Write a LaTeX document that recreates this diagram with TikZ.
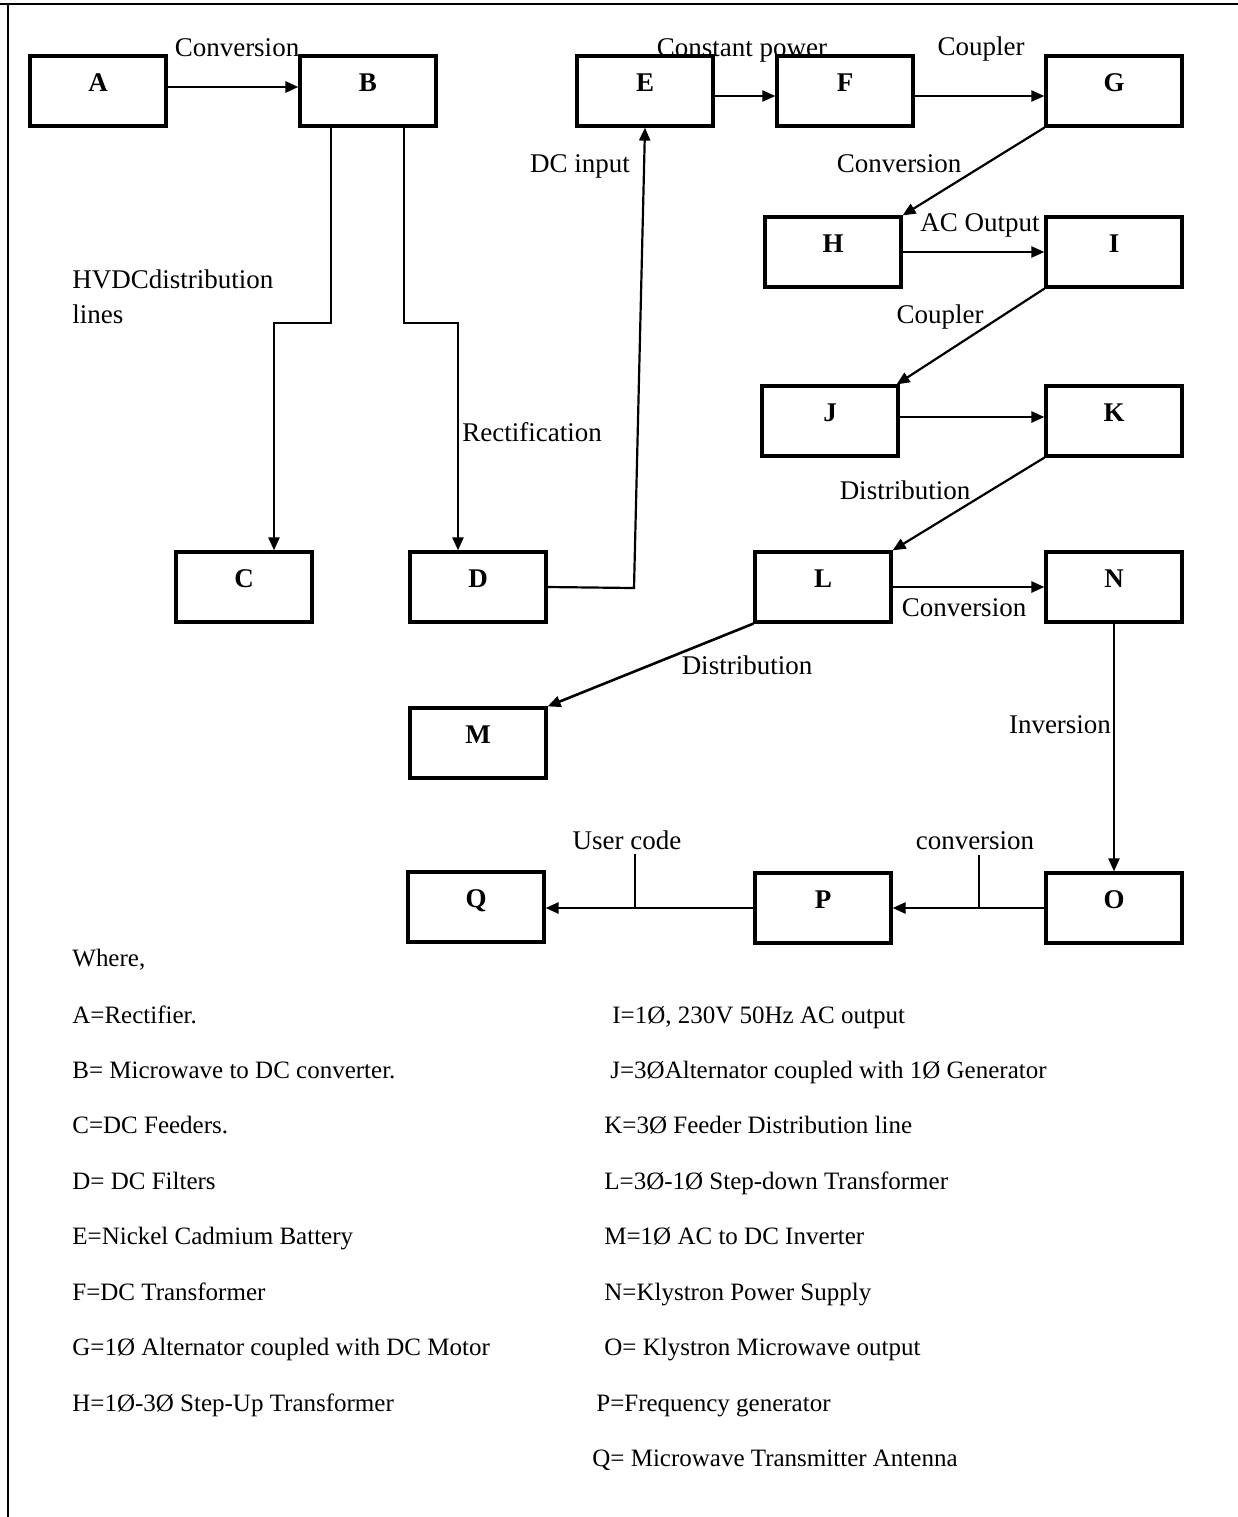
\documentclass[tikz,border=0pt]{standalone}
\usepackage{fontspec}
\setmainfont{Liberation Serif}
\usetikzlibrary{arrows.meta}
\begin{document}
\begin{tikzpicture}[x=0.5pt,y=-0.5pt,
  box/.style={draw,line width=1.6pt,minimum width=68pt,minimum height=35pt,inner sep=0pt,
    text height=17.5pt,text depth=17.5pt,font=\fontsize{13.5}{16}\selectfont\bfseries},
  arr/.style={line width=1.1pt,-{Triangle[length=6.5pt,width=5.5pt]}},
  conn/.style={line width=1.1pt},
  lab/.style={anchor=base,inner sep=0pt,font=\fontsize{13.5}{16}\selectfont},
  leg/.style={anchor=base west,inner sep=0pt,font=\fontsize{12.5}{15}\selectfont}]
\useasboundingbox (0,0) rectangle (1238,1517);
% frame
\draw[line width=1pt] (0,4) -- (1238,4);
\draw[line width=1.3pt] (8,4) -- (8,1517);
% boxes
\node[box] (A) at (98,91) {A};
\node[box] (B) at (368,91) {B};
\node[box] (E) at (645,91) {E};
\node[box] (F) at (845,91) {F};
\node[box] (G) at (1114,91) {G};
\node[box] (H) at (833,252) {H};
\node[box] (I) at (1114,252) {I};
\node[box] (J) at (830,421) {J};
\node[box] (K) at (1114,421) {K};
\node[box] (C) at (244,587) {C};
\node[box] (D) at (478,587) {D};
\node[box] (L) at (823,587) {L};
\node[box] (N) at (1114,587) {N};
\node[box] (M) at (478,743) {M};
\node[box] (Q) at (476,907) {Q};
\node[box] (P) at (823,908) {P};
\node[box] (O) at (1114,908) {O};
% connectors
\coordinate (bc) at (0,323);
\coordinate (de) at (634,588);
\draw[arr,line width=1.4pt] ([yshift=2pt]A.east) -- ([yshift=2pt]B.west);
\draw[arr] ([xshift=-18.5pt]B.south) -- ([xshift=-18.5pt]B.south |- bc) -| ([xshift=15pt]C.north);
\draw[arr] ([xshift=18pt]B.south) -- ([xshift=18pt]B.south |- bc) -| ([xshift=-10pt]D.north);
\draw[arr] (D.east) -- (de) -- (E.south);
\draw[arr] ([yshift=-2.5pt]E.east) -- ([yshift=-2.5pt]F.west);
\draw[arr] ([yshift=-2.5pt]F.east) -- ([yshift=-2.5pt]G.west);
\draw[arr] (G.south west) -- (H.north east);
\draw[arr] (H.east) -- (I.west);
\draw[arr] (I.south west) -- ([xshift=-1.5pt]J.north east);
\draw[arr,line width=1.3pt] ([yshift=2pt]J.east) -- ([yshift=2pt]K.west);
\draw[arr] (K.south west) -- (L.north east);
\draw[arr,line width=1.3pt] (L.east) -- (N.west);
\draw[arr,line width=1.3pt] (L.south west) -- (M.north east);
\draw[arr] (N.south) -- (O.north);
\draw[arr,line width=1.3pt] (O.west) -- (P.east);
\draw[arr,line width=1.3pt] (P.west) -- (P.west -| Q.east);
% label ticks
\coordinate (ct) at (979,855);
\coordinate (ut) at (635,854);
\draw[conn] (ct) -- (ct |- O.west);
\draw[conn] (ut) -- (ut |- P.west);
% connector labels
\node[lab] (l1) at (237,56) {Conversion};
\node[lab] (l2) at (742,56) {Constant power};
\node[lab] (l3) at (981,55) {Coupler};
\node[lab] (l4) at (580,172) {DC input};
\node[lab] (l5) at (899,172) {Conversion};
\node[lab] (l6) at (980,231) {AC Output};
\node[lab,anchor=base west] (l7) at (72,288) {HVDCdistribution};
\node[lab,anchor=base west] (l8) at (72,323) {lines};
\node[lab] (l9) at (940,323) {Coupler};
\node[lab,anchor=base west] (l10) at (462,441) {Rectification};
\node[lab] (l11) at (905,499) {Distribution};
\node[lab] (l12) at (964,616) {Conversion};
\node[lab] (l13) at (747,674) {Distribution};
\node[lab] (l14) at (1060,733) {Inversion};
\node[lab] (l15) at (627,849) {User code};
\node[lab] (l16) at (975,849) {conversion};
% legend
\node[leg] (w) at (72,966) {Where,};
\node[leg] (ta) at (72,1023) {A=Rectifier.};
\node[leg] (tb) at (72,1078) {B= Microwave to DC converter.};
\node[leg] (tc) at (72,1133) {C=DC Feeders.};
\node[leg] (td) at (72,1189) {D= DC Filters};
\node[leg] (te) at (72,1244) {E=Nickel Cadmium Battery};
\node[leg] (tf) at (72,1300) {F=DC Transformer};
\node[leg] (tg) at (72,1355) {G=1Ø Alternator coupled with DC Motor};
\node[leg] (th) at (72,1411) {H=1Ø-3Ø Step-Up Transformer};
\node[leg] (ti) at (612,1023) {I=1Ø, 230V 50Hz AC output};
\node[leg] (tj) at (610,1078) {J=3ØAlternator coupled with 1Ø Generator};
\node[leg] (tk) at (604,1133) {K=3Ø Feeder Distribution line};
\node[leg] (tl) at (604,1189) {L=3Ø-1Ø Step-down Transformer};
\node[leg] (tm) at (604,1244) {M=1Ø AC to DC Inverter};
\node[leg] (tn) at (604,1300) {N=Klystron Power Supply};
\node[leg] (to) at (604,1355) {O= Klystron Microwave output};
\node[leg] (tp) at (596,1411) {P=Frequency generator};
\node[leg] (tq) at (592,1466) {Q= Microwave Transmitter Antenna};
\end{tikzpicture}
\end{document}
